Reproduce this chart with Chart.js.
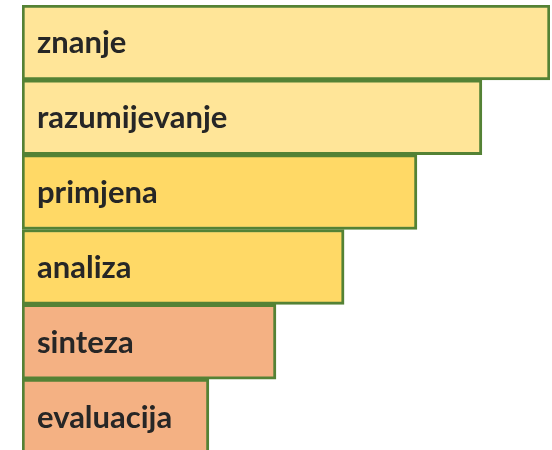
<!DOCTYPE html>
<html>
<head>
<meta charset="utf-8">
<script src="https://cdn.jsdelivr.net/npm/chart.js@4.4.0/dist/chart.umd.min.js"></script>
<style>
    html, body { margin: 0; padding: 0; background: #fff; overflow: hidden; }
    #wrap { width: 552px; height: 454px; }
</style>
</head>
<body>
<div id="wrap"><canvas id="chartBloom"></canvas></div>
<script>
// Bloomova taksonomija
const labels = ['znanje', 'razumijevanje', 'primjena', 'analiza', 'sinteza', 'evaluacija']
const values = [100, 87.1, 74.8, 61, 48.1, 35.4]
const fillColors = ['#FFE598', '#FFE598', '#FFD966', '#FFD966', '#F4B183', '#F4B183']

// labels written inside each bar
const barText = {
    id: 'barText',
    afterDatasetsDraw(chart) {
        const ctx = chart.ctx
        const meta = chart.getDatasetMeta(0)
        ctx.save()
        ctx.font = 'bold 31px Lato'
        ctx.fillStyle = '#262626'
        ctx.textBaseline = 'middle'
        ctx.textAlign = 'left'
        meta.data.forEach(function(bar, i) {
            ctx.fillText(chart.data.labels[i], bar.base + 15, bar.y + 1)
        })
        ctx.restore()
    }
}

var ctx = document.getElementById('chartBloom').getContext('2d')
var chart = new Chart(ctx, {
    type: 'bar',
    data: {
        labels: labels,
        datasets: [{
            label: 'Bloom',
            data: values,
            backgroundColor: fillColors,
            borderColor: '#548235',
            borderWidth: 3,
            borderSkipped: false,
            barPercentage: 1,
            categoryPercentage: 1
        }]
    },
    options: {
        indexAxis: 'y',
        responsive: true,
        maintainAspectRatio: false,
        animation: false,
        layout: { padding: { left: 22, right: 2, top: 5, bottom: 0 } },
        plugins: {
            legend: { display: false },
            tooltip: { enabled: false }
        },
        scales: {
            x: { display: false, min: 0, max: 100 },
            y: { display: false }
        }
    },
    plugins: [barText]
})
</script>
</body>
</html>
